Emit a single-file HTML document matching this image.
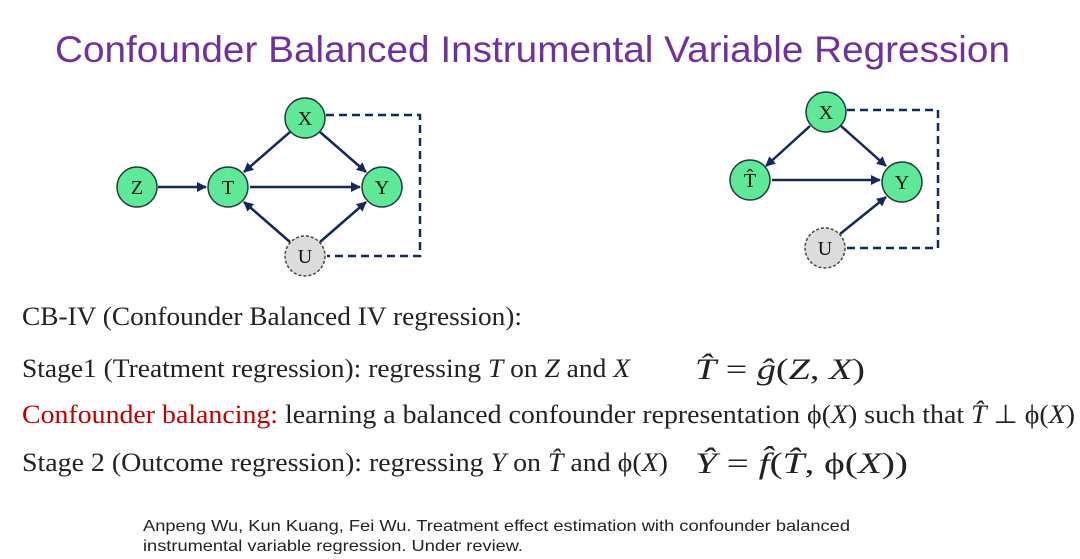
<!DOCTYPE html>
<html><head><meta charset="utf-8"><style>
body{margin:0;background:#fff;width:1080px;height:554px;overflow:hidden}
</style></head><body>
<svg width="1080" height="554" viewBox="0 0 1080 554" xmlns="http://www.w3.org/2000/svg">
<defs><marker id="a" markerWidth="10" markerHeight="10" refX="9" refY="5" orient="auto" markerUnits="userSpaceOnUse" viewBox="0 0 10 10"><path d="M0,0 L10,5 L0,10 z" fill="#14295a"/></marker></defs>
<text x="55" y="62" textLength="955" lengthAdjust="spacingAndGlyphs" font-family="Liberation Sans, sans-serif" font-size="37" fill="#7030a0">Confounder Balanced Instrumental Variable Regression</text>
<g stroke="#14295a" stroke-width="2.5" fill="none">
<line x1="158" y1="187" x2="206" y2="187" marker-end="url(#a)"/>
<line x1="250" y1="187" x2="360" y2="187" marker-end="url(#a)"/>
<line x1="290" y1="132" x2="244" y2="172" marker-end="url(#a)"/>
<line x1="320" y1="132" x2="366" y2="172" marker-end="url(#a)"/>
<line x1="290" y1="242" x2="244" y2="202" marker-end="url(#a)"/>
<line x1="320" y1="242" x2="366" y2="202" marker-end="url(#a)"/>
<polyline points="326,115 420,115 420,256 327,256" stroke-dasharray="8,5"/>
<line x1="810" y1="126" x2="766" y2="166" marker-end="url(#a)"/>
<line x1="841" y1="126" x2="886" y2="166" marker-end="url(#a)"/>
<line x1="772" y1="180" x2="880" y2="180" marker-end="url(#a)"/>
<line x1="840" y1="234" x2="886" y2="197" marker-end="url(#a)"/>
<polyline points="847,110 938,110 938,248 847,248" stroke-dasharray="8,5"/>
</g>
<g stroke="#1e3d3a" stroke-width="1.5" fill="#5ee898">
<circle cx="305" cy="118" r="20"/><circle cx="137" cy="187" r="20"/><circle cx="228" cy="187" r="20"/><circle cx="382" cy="187" r="20"/>
<circle cx="826" cy="112" r="20"/><circle cx="750" cy="180" r="20"/><circle cx="902" cy="182" r="20"/>
</g>
<g stroke="#444" stroke-width="1.5" stroke-dasharray="3,2" fill="#dcdcdc">
<circle cx="305" cy="256" r="20"/><circle cx="825" cy="248" r="20"/>
</g>
<g font-family="Liberation Serif, serif" font-size="20" text-anchor="middle" fill="#111">
<text x="305" y="125">X</text><text x="137" y="194">Z</text><text x="228" y="194">T</text><text x="382" y="194">Y</text><text x="305" y="263">U</text>
<text x="826" y="119">X</text><text x="750" y="187">T̂</text><text x="902" y="189">Y</text><text x="825" y="255">U</text>
</g>
<g font-family="Liberation Serif, serif" font-size="26" fill="#222" lengthAdjust="spacingAndGlyphs">
<text x="22" y="325" textLength="500" lengthAdjust="spacingAndGlyphs">CB-IV (Confounder Balanced IV regression):</text>
<text x="22" y="377" textLength="608" lengthAdjust="spacingAndGlyphs">Stage1 (Treatment regression): regressing <tspan font-style="italic">T</tspan> on <tspan font-style="italic">Z</tspan> and <tspan font-style="italic">X</tspan></text>
<text x="22" y="423" textLength="1053" lengthAdjust="spacingAndGlyphs"><tspan fill="#c00000">Confounder balancing:</tspan> learning a balanced confounder representation ϕ(<tspan font-style="italic">X</tspan>) such that <tspan font-style="italic">T̂</tspan> ⊥ ϕ(<tspan font-style="italic">X</tspan>)</text>
<text x="22" y="471" textLength="646" lengthAdjust="spacingAndGlyphs">Stage 2 (Outcome regression): regressing <tspan font-style="italic">Y</tspan> on <tspan font-style="italic">T̂</tspan> and ϕ(<tspan font-style="italic">X</tspan>)</text>
<text x="695" y="379" font-size="30" textLength="170" lengthAdjust="spacingAndGlyphs"><tspan font-style="italic">T̂</tspan> = <tspan font-style="italic">ĝ</tspan>(<tspan font-style="italic">Z</tspan>, <tspan font-style="italic">X</tspan>)</text>
<text x="695" y="473" font-size="30" textLength="213" lengthAdjust="spacingAndGlyphs"><tspan font-style="italic">Ŷ</tspan> = <tspan font-style="italic">f̂</tspan>(<tspan font-style="italic">T̂</tspan>, ϕ(<tspan font-style="italic">X</tspan>))</text>
</g>
<g font-family="Liberation Sans, sans-serif" font-size="16" fill="#222">
<text x="143" y="531" textLength="707" lengthAdjust="spacingAndGlyphs">Anpeng Wu, Kun Kuang, Fei Wu. Treatment effect estimation with confounder balanced</text>
<text x="143" y="551" textLength="380" lengthAdjust="spacingAndGlyphs">instrumental variable regression. Under review.</text>
</g>
</svg>
</body></html>
